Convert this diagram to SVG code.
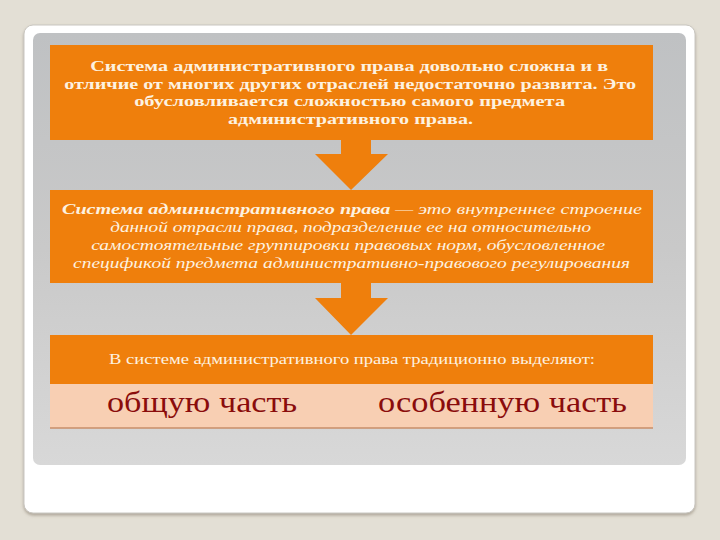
<svg xmlns="http://www.w3.org/2000/svg" width="720" height="540" viewBox="0 0 720 540">
<defs>
<linearGradient id="panel" x1="0" y1="0" x2="0" y2="1">
<stop offset="0" stop-color="#bfc1c3"/>
<stop offset="0.5" stop-color="#c9c9c9"/>
<stop offset="1" stop-color="#d8d8d8"/>
</linearGradient>
<filter id="sh" x="-5%" y="-5%" width="110%" height="110%">
<feDropShadow dx="0" dy="2" stdDeviation="1.5" flood-color="#8a8070" flood-opacity="0.6"/>
</filter>
</defs>
<style>
.box{fill:#ef7f0c}
.arrow{fill:#ef7f0c}
.t1{font-family:"Liberation Serif","DejaVu Serif",serif;font-weight:bold;font-size:15px;fill:#fdf2e0}
.t2{font-family:"Liberation Serif","DejaVu Serif",serif;font-style:italic;font-size:14.5px;fill:#fdf2e0}
.t3{font-family:"Liberation Serif","DejaVu Serif",serif;font-size:14px;fill:#fdf2e0}
.big{font-family:"Liberation Serif","DejaVu Serif",serif;font-size:30px;fill:#8a0c0c}
</style>
<rect width="720" height="540" fill="#e3dfd5"/>
<rect x="24" y="25" width="671" height="488" rx="9" fill="#ffffff" stroke="#c9c6c0" stroke-width="1" filter="url(#sh)"/>
<rect x="33" y="33" width="653" height="432" rx="7" fill="url(#panel)"/>
<g id="connectors">
<polygon class="arrow" points="341,138 371,138 371,154 388,154 351,190 315,154 341,154"/>
<polygon class="arrow" points="341,282 371,282 371,298 388,298 351,335 315,298 341,298"/>
</g>
<g id="node1">
<rect class="box" x="50" y="45" width="603" height="95"/>
<text class="t1" text-anchor="middle">
<tspan x="351" y="71" textLength="518" lengthAdjust="spacingAndGlyphs">Система административного права довольно сложна и в</tspan>
<tspan x="352" y="88.5" textLength="572" lengthAdjust="spacingAndGlyphs">отличие от многих других отраслей недостаточно развита. Это</tspan>
<tspan x="351.5" y="106" textLength="431" lengthAdjust="spacingAndGlyphs">обусловливается сложностью самого предмета</tspan>
<tspan x="350.5" y="123.5" textLength="245" lengthAdjust="spacingAndGlyphs">административного права.</tspan>
</text>
</g>
<g id="node2">
<rect class="box" x="50" y="190" width="603" height="93"/>
<text class="t2" x="62" y="214" textLength="580" lengthAdjust="spacingAndGlyphs"><tspan font-weight="bold">Система административного права</tspan> — это внутреннее строение</text>
<text class="t2" text-anchor="middle">
<tspan x="352.5" y="232" textLength="481" lengthAdjust="spacingAndGlyphs">данной отрасли права, подразделение ее на относительно</tspan>
<tspan x="350" y="250" textLength="514" lengthAdjust="spacingAndGlyphs">самостоятельные группировки правовых норм, обусловленное</tspan>
<tspan x="351.5" y="268" textLength="557" lengthAdjust="spacingAndGlyphs">спецификой предмета административно-правового регулирования</tspan>
</text>
</g>
<g id="node3">
<rect class="box" x="50" y="335" width="603" height="49"/>
<text class="t3" x="352" y="364" text-anchor="middle" textLength="486" lengthAdjust="spacingAndGlyphs">В системе административного права традиционно выделяют:</text>
</g>
<g id="node4">
<rect x="50" y="384" width="603" height="44" fill="#f8cfb3"/>
<line x1="50" y1="428" x2="653" y2="428" stroke="#c98e68" stroke-width="1.5"/>
<text class="big" x="107" y="412" textLength="190" lengthAdjust="spacingAndGlyphs">общую часть</text>
<text class="big" x="378" y="412" textLength="249" lengthAdjust="spacingAndGlyphs">особенную часть</text>
</g>
</svg>
